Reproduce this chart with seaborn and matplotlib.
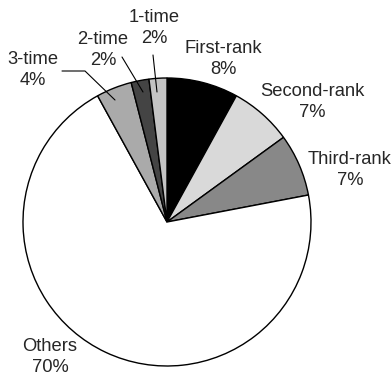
import matplotlib
matplotlib.use("Agg")
import matplotlib.pyplot as plt
import seaborn as sns

sns.set_style("white")
plt.rcParams['font.family'] = ['Liberation Sans', 'DejaVu Sans']

# Data
categories = ["First-rank", "Second-rank", "Third-rank", "Others", "3-time", "2-time", "1-time"]
shares = [8, 7, 7, 70, 4, 2, 2]

# Styles
slice_colors = ["#000000", "#d9d9d9", "#888888", "#ffffff", "#aaaaaa", "#444444", "#c4c4c4"]

W, H = 392, 377
CX, CY, R = 167, 222, 144  # pie center/radius in pixels

fig = plt.figure(figsize=(W / 100, H / 100), dpi=100)
ax = fig.add_axes([(CX - R) / W, (H - CY - R) / H, 2 * R / W, 2 * R / H])

ax.pie(shares, colors=slice_colors, startangle=90, counterclock=False, radius=1,
       wedgeprops=dict(edgecolor="black", linewidth=1.0))
ax.set_xlim(-1, 1)
ax.set_ylim(-1, 1)
ax.set_aspect("equal")
ax.axis("off")


def px(x, y):
    return ((x - CX) / R, (CY - y) / R)


# label layout (pixel positions of text block centres)
label_pos = {
    "First-rank": (223, 59),
    "Second-rank": (312, 102),
    "Third-rank": (350, 170),
    "Others": (50, 357),
    "3-time": (33, 70),
    "2-time": (103, 50),
    "1-time": (154, 28),
}

for cat, val in zip(categories, shares):
    x, y = px(*label_pos[cat])
    ax.text(x, y, f"{cat}\n{val}%", ha="center", va="center", fontsize=13.2,
            linespacing=1.3, clip_on=False)

# leader lines
leaders = [
    [(153, 55), (157, 92)],
    [(122, 57), (143, 92)],
    [(62, 71), (85, 71), (115, 100)],
]
for pts in leaders:
    xs, ys = zip(*[px(*p) for p in pts])
    ax.plot(xs, ys, color="black", linewidth=0.8, clip_on=False)

fig.savefig("out.png", dpi=100)
